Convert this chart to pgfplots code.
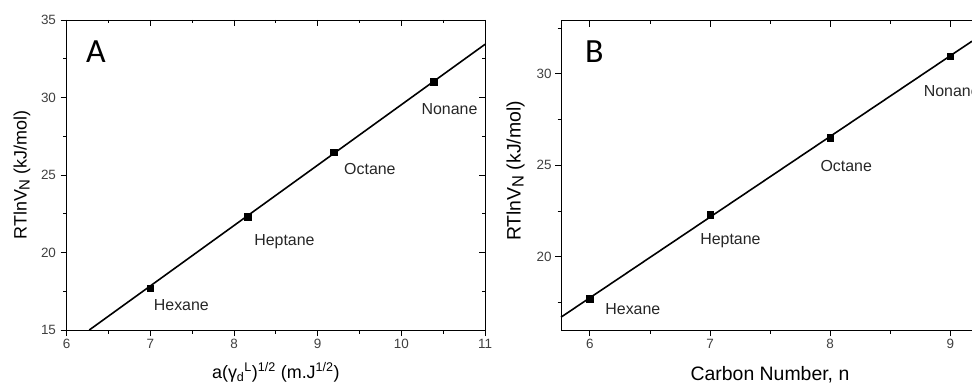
\documentclass[border=0pt]{standalone}
\usepackage{fontspec}
\setmainfont{Liberation Sans}
\newfontfamily\calib{Carlito}
\usepackage{pgfplots}
\pgfplotsset{compat=1.18}
\newcommand{\tickfont}{\fontsize{13.5}{13.5}\selectfont}
\pgfplotsset{
  base/.style={scale only axis, anchor=south west,
    /pgf/number format/assume math mode=true,
    xticklabel style={font=\tickfont, text=black!75},
    yticklabel style={font=\tickfont, text=black!75},
    label style={font=\fontsize{18}{18}\selectfont},
    axis line style={line width=0.8bp},
    major tick length=6bp, minor tick length=3.5bp,
    every tick/.style={black, line width=0.8bp},
  },
}
\tikzset{
  ptlab/.style={anchor=base west, font=\fontsize{16}{16}\selectfont, text=black!85},
  panel/.style={anchor=base west, inner sep=0pt, font=\calib\fontsize{34}{34}\selectfont},
}
\begin{document}
\begin{tikzpicture}
% ---------------- Panel A ----------------
\begin{axis}[base, at={(66.7bp,58bp)}, width=418.3bp, height=310bp,
  xmin=6, xmax=11, ymin=15, ymax=35,
  xtick={6,7,8,9,10,11}, ytick={15,20,25,30,35},
  minor xtick={6.5,7.5,8.5,9.5,10.5}, minor ytick={17.5,22.5,27.5,32.5},
  axis x line*=bottom, axis y line*=left, tick align=outside, clip=false,
  yticklabel style={xshift=-1.2bp},
  xlabel={a(γ\textsubscript{d}\textsuperscript{L})\textsuperscript{1/2} (m.J\textsuperscript{1/2})},
  ylabel={RTlnV\raisebox{-3bp}{\fontsize{15}{15}\selectfont N} (kJ/mol)},
  xlabel style={at={(axis description cs:0.5,-0.155)}, anchor=base},
  ylabel style={at={(axis description cs:-0.107,0.5)}, anchor=center},
]
\addplot[black, line width=1.6bp] coordinates {(6.27,15) (11,33.43)};
\addplot[only marks, mark=square*, mark size=3.3bp, black] coordinates {(7.0,17.69) (8.16,22.31) (9.19,26.46) (10.39,31.02)};
\node[ptlab] at (axis cs:7.0,16.25) {Hexane};
\node[ptlab] at (axis cs:8.2,20.48) {Heptane};
\node[ptlab] at (axis cs:9.275,25.06) {Octane};
\node[ptlab] at (axis cs:10.2,28.92) {Nonane};
\node[panel] at (axis cs:6.23,32.23) {A};
\end{axis}
\begin{axis}[base, at={(66.7bp,58bp)}, width=418.3bp, height=310bp,
  xmin=6, xmax=11, ymin=15, ymax=35,
  xtick={6,7,8,9,10,11}, ytick={15,20,25,30,35},
  minor xtick={6.5,7.5,8.5,9.5,10.5}, minor ytick={17.5,22.5,27.5,32.5},
  axis x line*=top, axis y line*=right, tick align=inside,
  xticklabels={}, yticklabels={},
]
\end{axis}
% ---------------- Panel B ----------------
\begin{axis}[base, at={(561bp,58bp)}, width=411bp, height=309.3bp,
  xmin=5.76, xmax=9.18, ymin=16, ymax=32.9,
  xtick={6,7,8,9}, ytick={20,25,30},
  minor xtick={6.5,7.5,8.5}, minor ytick={17.5,22.5,27.5,32.5},
  axis x line*=bottom, axis y line*=left, tick align=outside, clip=false,
  label style={font=\fontsize{19.5}{19.5}\selectfont},
  xlabel={Carbon Number, n},
  ylabel={RTlnV\raisebox{-3bp}{\fontsize{16.5}{16.5}\selectfont N} (kJ/mol)},
  xlabel style={at={(axis description cs:0.5085,-0.1617)}, anchor=base},
  ylabel style={at={(axis description cs:-0.1107,0.514)}, anchor=center},
]
\addplot[black, line width=1.6bp] coordinates {(5.76,16.7) (9.18,31.78)};
\addplot[only marks, mark=square*, mark size=3.3bp, black] coordinates {(6,17.72) (7,22.3) (8,26.5) (9,30.96)};
\node[ptlab] at (axis cs:6.1,16.85) {Hexane};
\node[ptlab] at (axis cs:6.89,20.67) {Heptane};
\node[ptlab] at (axis cs:7.89,24.64) {Octane};
\node[ptlab] at (axis cs:8.75,28.74) {Nonane};
\node[panel] at (axis cs:5.96,30.62) {B};
\end{axis}
\begin{axis}[base, at={(561bp,58bp)}, width=411bp, height=309.3bp,
  xmin=5.76, xmax=9.18, ymin=16, ymax=32.9,
  xtick={6,7,8,9}, minor xtick={6.5,7.5,8.5},
  axis x line*=top, axis y line=none, tick align=inside,
  xticklabels={},
]
\end{axis}
\pgfresetboundingbox
\useasboundingbox (0,0) rectangle (972bp,388bp);
\end{tikzpicture}
\end{document}
